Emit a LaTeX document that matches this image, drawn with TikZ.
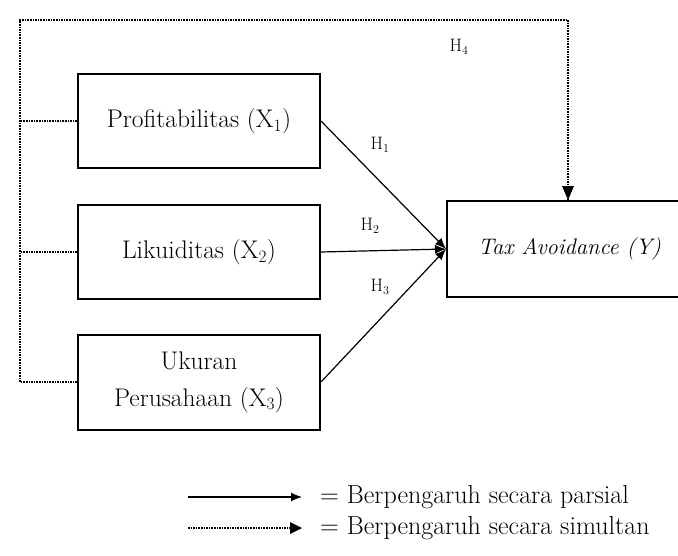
\documentclass[tikz,border=0pt]{standalone}
\usepackage{fontspec}
\usetikzlibrary{arrows.meta,calc}
\begin{document}
\begin{tikzpicture}[x=1pt,y=-1pt,
  box/.style={draw,line width=2pt,inner sep=0pt,align=center,font=\fontsize{25.5}{37}\selectfont},
  partial/.style={line width=1.2pt,-{Latex[length=11pt,width=9pt]}},
  simul/.style={line width=1.6pt,densely dotted},
  hlab/.style={font=\fontsize{18}{20}\selectfont,inner sep=0pt}]
\useasboundingbox (0,0) rectangle (678,555);
\node[box,minimum width=242pt,minimum height=94pt] (p1) at (199,121) {Profitabilitas (X$_1$)};
\node[box,minimum width=242pt,minimum height=94pt] (p2) at (199,252) {Likuiditas (X$_2$)};
\node[box,minimum width=242pt,minimum height=95pt] (p3) at (199,382) {Ukuran\\Perusahaan (X$_3$)};
\node[box,minimum width=245pt,minimum height=96pt,font=\fontsize{22.5}{28}\selectfont\itshape] (y) at (569.5,249) {Tax Avoidance (Y)};
\coordinate (tl) at (20,20);
\coordinate (tr) at (568,20);
\coordinate (bl) at (20,382);
\draw[simul] (p3.west) -- (bl) -- (tl) -- (tr);
\draw[simul] (tr) -- (tr |- y.north);
\fill (tr |- y.north) -- ++(-6,-14) -- ++(12,0) -- cycle;
\draw[simul] (p1.west) -- (p1.west -| tl);
\draw[simul] (p2.west) -- (p2.west -| tl);
\draw[partial] (p1.east) -- (y.west);
\draw[partial] (p2.east) -- (y.west);
\draw[partial] (p3.east) -- (y.west);
\node[hlab] (h4) at (459,47) {H$_4$};
\node[hlab] (h1) at (380,145) {H$_1$};
\node[hlab] (h2) at (370,226) {H$_2$};
\node[hlab] (h3) at (380,287) {H$_3$};
\coordinate (l1a) at (188,497);
\coordinate (l1b) at (302,497);
\coordinate (l2a) at (188,528);
\coordinate (l2b) at (302,528);
\draw[partial] (l1a) -- (l1b);
\draw[simul] (l2a) -- ($(l2b)+(-10,0)$);
\fill (l2b) -- ++(-12,-6) -- ++(0,12) -- cycle;
\node[anchor=west,inner sep=0pt,font=\fontsize{26}{30}\selectfont] (t1) at (320,497) {= Berpengaruh secara parsial};
\node[anchor=west,inner sep=0pt,font=\fontsize{26}{30}\selectfont] (t2) at (320,528) {= Berpengaruh secara simultan};
\end{tikzpicture}
\end{document}
